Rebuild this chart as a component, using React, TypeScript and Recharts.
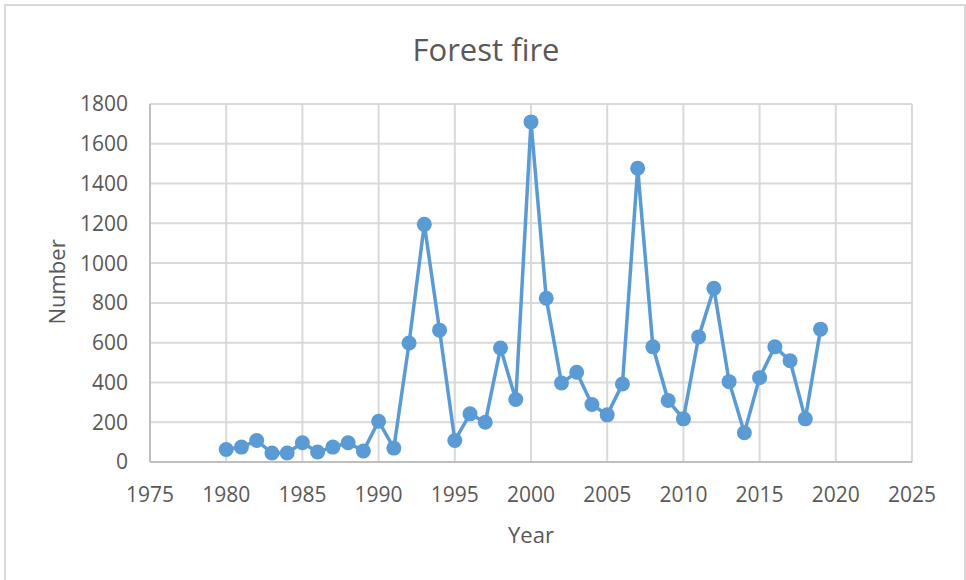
import { CartesianGrid, Line, LineChart, XAxis, YAxis } from "recharts";

const years = [
  1980, 1981, 1982, 1983, 1984, 1985, 1986, 1987, 1988, 1989,
  1990, 1991, 1992, 1993, 1994, 1995, 1996, 1997, 1998, 1999,
  2000, 2001, 2002, 2003, 2004, 2005, 2006, 2007, 2008, 2009,
  2010, 2011, 2012, 2013, 2014, 2015, 2016, 2017, 2018, 2019,
];
const fires = [
  63, 75, 108, 45, 45, 97, 50, 75, 97, 55,
  205, 70, 598, 1195, 663, 108, 242, 200, 573, 314,
  1710, 823, 397, 451, 289, 237, 392, 1477, 579, 309,
  217, 629, 873, 404, 147, 424, 579, 509, 217, 668,
];
const xTicks = [1975, 1980, 1985, 1990, 1995, 2000, 2005, 2010, 2015, 2020, 2025];
const yTicks = [0, 200, 400, 600, 800, 1000, 1200, 1400, 1600, 1800];

const FONT = "'Open Sans', 'Noto Sans', sans-serif";
const TEXT = "#595959";
const BLUE = "#5b9bd5";

const rows = years.map((year, i) => ({ year, fires: fires[i] }));

export default function App() {
  return (
    <div
      style={{
        position: "absolute",
        left: 0,
        top: 0,
        width: 966,
        height: 580,
        overflow: "hidden",
        background: "#fff",
        fontFamily: FONT,
      }}
    >
      <div
        style={{
          position: "absolute",
          left: 4,
          top: 4,
          width: 958,
          height: 600,
          border: "2px solid #d9d9d9",
        }}
      />
      <LineChart
        width={966}
        height={580}
        data={rows}
        margin={{ top: 104, right: 54, left: 90, bottom: 88 }}
        style={{ position: "absolute", left: 0, top: 0 }}
      >
        <CartesianGrid stroke="#d9d9d9" strokeWidth={2} horizontalValues={yTicks} verticalValues={xTicks} />
        <XAxis
          dataKey="year"
          type="number"
          domain={[1975, 2025]}
          ticks={xTicks}
          interval={0}
          height={30}
          axisLine={{ stroke: "#bfbfbf", strokeWidth: 2 }}
          tickLine={false}
          tickMargin={19}
          tick={{ fill: TEXT, fontSize: 21, fontFamily: FONT }}
        />
        <YAxis
          type="number"
          domain={[0, 1800]}
          ticks={yTicks}
          interval={0}
          width={60}
          axisLine={{ stroke: "#bfbfbf", strokeWidth: 2 }}
          tickLine={false}
          tickMargin={16}
          tick={{ fill: TEXT, fontSize: 21, fontFamily: FONT }}
        />
        <Line
          dataKey="fires"
          stroke={BLUE}
          strokeWidth={3.5}
          dot={{ r: 7.5, fill: BLUE, stroke: BLUE, strokeWidth: 0 }}
          isAnimationActive={false}
        />
      </LineChart>
      <svg
        width={966}
        height={580}
        style={{ position: "absolute", left: 0, top: 0, pointerEvents: "none" }}
      >
        <text x={486} y={61} textAnchor="middle" fontSize={31} fill={TEXT} fontFamily={FONT}>
          Forest fire
        </text>
        <text x={531} y={543} textAnchor="middle" fontSize={22} fill={TEXT} fontFamily={FONT}>
          Year
        </text>
        <text
          x={0}
          y={0}
          transform="translate(65 282) rotate(-90)"
          textAnchor="middle"
          fontSize={22}
          fill={TEXT}
          fontFamily={FONT}
        >
          Number
        </text>
      </svg>
    </div>
  );
}
